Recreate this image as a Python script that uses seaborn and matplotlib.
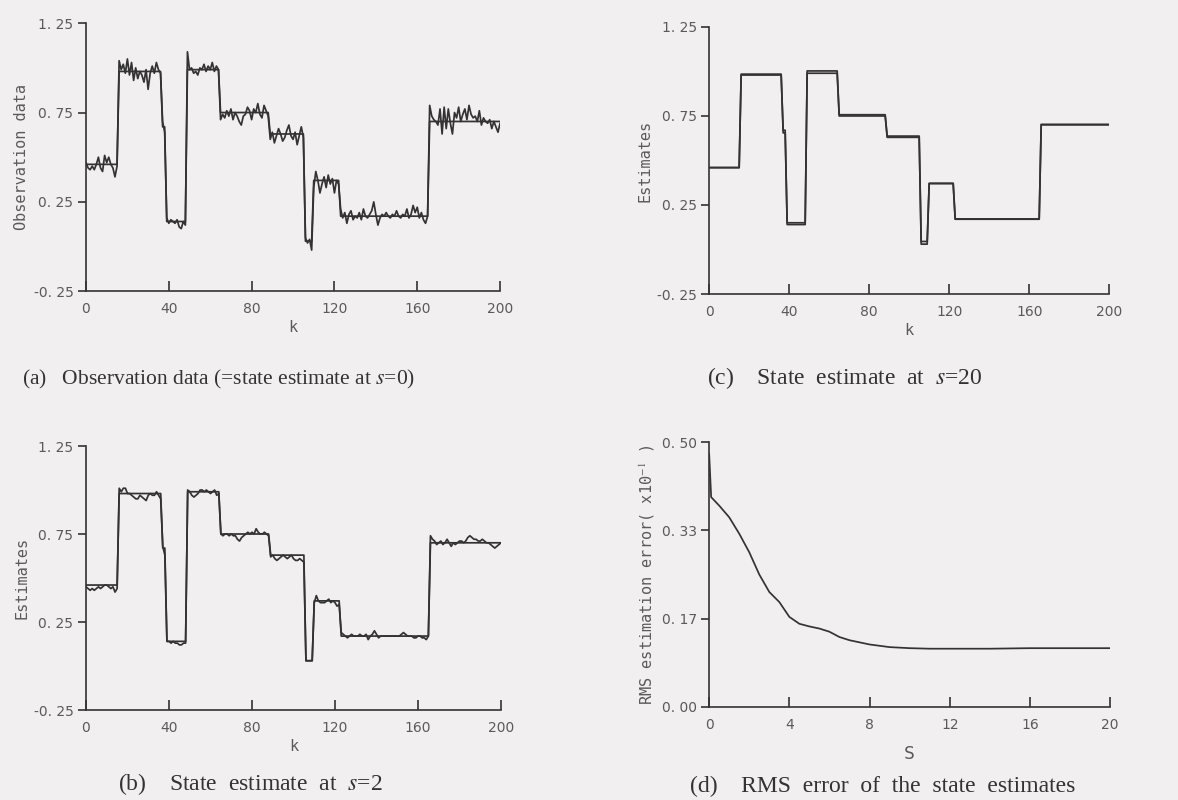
import numpy as np
import pandas as pd
import matplotlib
matplotlib.use("Agg")
import matplotlib.pyplot as plt
import seaborn as sns

# ---------------- data ----------------
seg_start = [0, 16, 37, 39, 49, 65, 89, 106, 110, 123, 166]
seg_end = [15, 36, 38, 48, 64, 88, 105, 109, 122, 165, 200]
true_level = [0.46, 0.98, 0.67, 0.14, 0.99, 0.75, 0.63, 0.03, 0.37, 0.17, 0.70]
est20_level = [0.46, 0.985, 0.655, 0.15, 1.003, 0.757, 0.637, 0.045, 0.372, 0.172, 0.703]

obs_seg = [
    [0.47, 0.44, 0.43, 0.45, 0.43, 0.46, 0.50, 0.44, 0.42, 0.51, 0.47, 0.50, 0.46, 0.44, 0.39, 0.45],
    [1.04, 0.99, 1.02, 0.97, 1.05, 0.96, 1.03, 0.93, 1.00, 0.94, 0.98, 0.96, 0.92, 0.99, 0.88, 0.97,
     1.01, 0.97, 1.03, 0.99, 0.97],
    [0.70, 0.64],
    [0.16, 0.13, 0.15, 0.14, 0.13, 0.15, 0.11, 0.10, 0.14, 0.12],
    [1.09, 0.99, 1.00, 0.97, 0.98, 0.96, 1.00, 0.99, 1.02, 0.98, 1.01, 0.99, 1.03, 0.98, 1.01, 0.99],
    [0.71, 0.74, 0.72, 0.76, 0.73, 0.77, 0.71, 0.75, 0.73, 0.70, 0.68, 0.73, 0.74, 0.78, 0.76, 0.71,
     0.77, 0.75, 0.80, 0.74, 0.72, 0.79, 0.76, 0.73],
    [0.60, 0.64, 0.58, 0.62, 0.66, 0.63, 0.59, 0.61, 0.65, 0.68, 0.62, 0.60, 0.64, 0.57, 0.62, 0.67, 0.61],
    [0.05, 0.02, 0.04, -0.02],
    [0.33, 0.42, 0.37, 0.30, 0.35, 0.39, 0.33, 0.40, 0.35, 0.38, 0.30, 0.37, 0.35],
    [0.21, 0.16, 0.19, 0.13, 0.18, 0.20, 0.15, 0.17, 0.16, 0.19, 0.15, 0.21, 0.17, 0.16, 0.18, 0.20,
     0.25, 0.18, 0.12, 0.16, 0.18, 0.17, 0.19, 0.17, 0.16, 0.18, 0.17, 0.20, 0.17, 0.16, 0.18, 0.17,
     0.21, 0.16, 0.18, 0.23, 0.19, 0.22, 0.16, 0.19, 0.15, 0.13, 0.17],
    [0.79, 0.73, 0.71, 0.70, 0.68, 0.77, 0.63, 0.78, 0.66, 0.77, 0.69, 0.63, 0.75, 0.72, 0.78, 0.70,
     0.74, 0.77, 0.71, 0.79, 0.74, 0.72, 0.73, 0.70, 0.76, 0.68, 0.72, 0.70, 0.69, 0.71, 0.66, 0.70,
     0.67, 0.64, 0.69],
]

est2_seg = [
    [0.45, 0.44, 0.43, 0.44, 0.43, 0.44, 0.45, 0.44, 0.45, 0.46, 0.46, 0.45, 0.44, 0.45, 0.42, 0.44],
    [1.01, 0.99, 1.01, 1.01, 0.98, 0.98, 0.97, 0.96, 0.95, 0.95, 0.97, 0.96, 0.95, 0.94, 0.97, 0.98,
     0.97, 0.97, 0.99, 0.97, 0.95],
    [0.68, 0.63],
    [0.14, 0.14, 0.13, 0.14, 0.13, 0.13, 0.12, 0.12, 0.13, 0.13],
    [1.00, 0.99, 0.97, 0.96, 0.97, 0.98, 1.00, 1.00, 0.99, 1.00, 0.99, 0.98, 0.99, 1.00, 0.97, 0.98],
    [0.75, 0.74, 0.75, 0.75, 0.74, 0.75, 0.74, 0.74, 0.72, 0.71, 0.73, 0.74, 0.75, 0.76, 0.75, 0.76,
     0.75, 0.78, 0.76, 0.75, 0.75, 0.76, 0.75, 0.74],
    [0.62, 0.63, 0.61, 0.60, 0.61, 0.62, 0.63, 0.62, 0.61, 0.62, 0.63, 0.61, 0.60, 0.60, 0.61, 0.60, 0.59],
    [0.03, 0.03, 0.03, 0.03],
    [0.36, 0.40, 0.37, 0.36, 0.36, 0.36, 0.37, 0.38, 0.36, 0.37, 0.36, 0.34, 0.35],
    [0.19, 0.18, 0.17, 0.16, 0.17, 0.18, 0.17, 0.17, 0.17, 0.18, 0.17, 0.17, 0.18, 0.15, 0.17, 0.18,
     0.20, 0.18, 0.16, 0.17, 0.17, 0.17, 0.17, 0.17, 0.17, 0.17, 0.17, 0.17, 0.17, 0.18, 0.19, 0.18,
     0.17, 0.17, 0.17, 0.16, 0.16, 0.17, 0.17, 0.16, 0.16, 0.15, 0.17],
    [0.74, 0.72, 0.71, 0.69, 0.70, 0.71, 0.69, 0.70, 0.72, 0.70, 0.68, 0.70, 0.69, 0.70, 0.71, 0.71,
     0.70, 0.71, 0.73, 0.74, 0.73, 0.72, 0.72, 0.71, 0.71, 0.72, 0.71, 0.70, 0.70, 0.69, 0.68, 0.67,
     0.68, 0.69, 0.70],
]

rms_s = [0, 0.1, 0.5, 1, 1.5, 2, 2.5, 3, 3.5, 4, 4.5, 5, 5.5, 6, 6.5, 7, 8, 9, 10, 11, 12, 14, 16, 18, 20]
rms_err = [0.478, 0.396, 0.38, 0.358, 0.327, 0.292, 0.25, 0.217, 0.198, 0.170, 0.157, 0.152, 0.148,
           0.142, 0.132, 0.126, 0.118, 0.113, 0.111, 0.110, 0.110, 0.110, 0.111, 0.111, 0.111]

k_ticks = [0, 40, 80, 120, 160, 200]
est_ticks = [-0.25, 0.25, 0.75, 1.25]
est_ticklabels = ["-0. 25", "0. 25", "0. 75", "1. 25"]
s_ticks = [0, 4, 8, 12, 16, 20]
rms_ticks = [0.0, 1 / 6, 1 / 3, 0.5]
rms_ticklabels = ["0. 00", "0. 17", "0. 33", "0. 50"]

captions = [
    "(a)   Observation data (=state estimate at $s$=0)",
    "(c)    State  estimate  at  $s$=20",
    "(b)    State  estimate  at  $s$=2",
    "(d)    RMS  error  of  the  state  estimates",
]
caption_sizes = [15.5, 17, 17, 17]

# ---------------- build frames ----------------
def breakpoints(levels):
    xs, ys = [], []
    for a, b, v in zip(seg_start, seg_end, levels):
        xs += [a, b]
        ys += [v, v]
    return pd.DataFrame({"k": xs, "v": ys})

k_all = np.arange(0, 201)
df_true = breakpoints(true_level)
df_est20 = breakpoints(est20_level)
df_obs = pd.DataFrame({"k": k_all, "v": np.concatenate([np.array(s) for s in obs_seg])})
df_est2 = pd.DataFrame({"k": k_all, "v": np.concatenate([np.array(s) for s in est2_seg])})
df_rms = pd.DataFrame({"s": rms_s, "e": rms_err})

# ---------------- style ----------------
sns.set_theme(style="ticks")
bg = "#f2eff1"
ink = "#333333"
txt = "#5a5a5a"
plt.rcParams["font.family"] = ["DejaVu Sans"]
plt.rcParams["mathtext.fontset"] = "stix"

fig = plt.figure(figsize=(11.78, 8.0), dpi=100, facecolor=bg)

pos = {
    "a": [0.073, 0.636, 0.3515, 0.335],
    "c": [0.602, 0.6325, 0.3396, 0.3338],
    "b": [0.073, 0.1125, 0.3523, 0.330],
    "d": [0.602, 0.11625, 0.3404, 0.33125],
}


def style_ax(ax, xt, yt, ytl, xlim, ylim, xlabel, ylabel):
    ax.set_facecolor(bg)
    ax.set_xlim(*xlim)
    ax.set_ylim(*ylim)
    ax.set_xticks(xt)
    ax.set_xticklabels([str(v) for v in xt])
    ax.set_yticks(yt)
    ax.set_yticklabels(ytl)
    for sp in ["top", "right"]:
        ax.spines[sp].set_visible(False)
    for sp in ["left", "bottom"]:
        ax.spines[sp].set_color(ink)
        ax.spines[sp].set_linewidth(1.2)
    ax.tick_params(axis="x", direction="in", length=7, width=1.2, color=ink,
                   labelsize=10, labelcolor=txt, pad=8)
    ax.tick_params(axis="y", direction="out", length=6, width=1.2, color=ink,
                   labelsize=10, labelcolor=txt, pad=3)
    ax.set_xlabel(xlabel, fontsize=11, color=txt, labelpad=3, family="DejaVu Sans Mono")
    ax.set_ylabel(ylabel, fontsize=11, color=txt, labelpad=3, family="DejaVu Sans Mono")


lw = 1.25
# (a)
ax = fig.add_axes(pos["a"])
sns.lineplot(data=df_true, x="k", y="v", ax=ax, color=ink, lw=lw, sort=False, estimator=None)
sns.lineplot(data=df_obs, x="k", y="v", ax=ax, color=ink, lw=lw, sort=False, estimator=None)
style_ax(ax, k_ticks, est_ticks, est_ticklabels, (0, 200), (-0.25, 1.25), "k", "Observation data")

# (c)
ax = fig.add_axes(pos["c"])
sns.lineplot(data=df_true, x="k", y="v", ax=ax, color=ink, lw=lw, sort=False, estimator=None)
sns.lineplot(data=df_est20, x="k", y="v", ax=ax, color=ink, lw=lw, sort=False, estimator=None)
style_ax(ax, k_ticks, est_ticks, est_ticklabels, (0, 200), (-0.25, 1.25), "k", "Estimates")

# (b)
ax = fig.add_axes(pos["b"])
sns.lineplot(data=df_true, x="k", y="v", ax=ax, color=ink, lw=lw, sort=False, estimator=None)
sns.lineplot(data=df_est2, x="k", y="v", ax=ax, color=ink, lw=lw, sort=False, estimator=None)
style_ax(ax, k_ticks, est_ticks, est_ticklabels, (0, 200), (-0.25, 1.25), "k", "Estimates")

# (d)
ax = fig.add_axes(pos["d"])
sns.lineplot(data=df_rms, x="s", y="e", ax=ax, color=ink, lw=lw, sort=False, estimator=None)
style_ax(ax, s_ticks, rms_ticks, rms_ticklabels, (0, 20), (0, 0.5), "S",
         r"RMS estimation error( x10$^{-1}$ )")
ax.xaxis.label.set_fontsize(13)
ax.xaxis.labelpad = 9

# captions
cap_pos = [(0.019, 0.511), (0.600, 0.511), (0.100, 0.004), (0.586, 0.004)]
for (x, y), c, fs in zip(cap_pos, captions, caption_sizes):
    fig.text(x, y, c, fontsize=fs, family="Liberation Serif", color="#333333",
             ha="left", va="bottom")

fig.savefig("out.png", dpi=100, facecolor=bg)
